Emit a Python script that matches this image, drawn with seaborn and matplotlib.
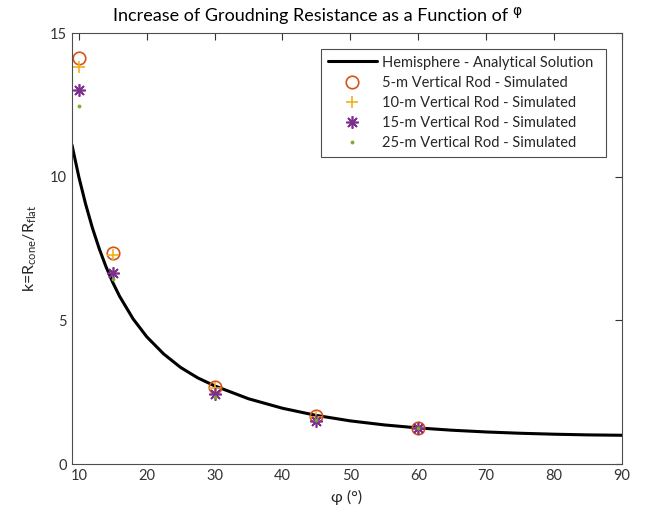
import numpy as np
import pandas as pd
import matplotlib
matplotlib.use("Agg")
import matplotlib.pyplot as plt
import seaborn as sns

# ---- data ----
phi_curve = [9, 10, 11, 12, 13, 14, 15, 16, 18, 20, 22.5, 25, 27.5, 30, 35, 40,
             45, 50, 55, 60, 65, 70, 75, 80, 85, 90]
k_curve = [11.1, 10.0, 9.05, 8.22, 7.5, 6.87, 6.32, 5.84, 5.05, 4.43, 3.83, 3.36,
           3.0, 2.72, 2.27, 1.94, 1.69, 1.5, 1.36, 1.255, 1.175, 1.115, 1.07,
           1.037, 1.013, 1.0]

phi_sim = [10, 15, 30, 45, 60]
k_5m = [14.12, 7.35, 2.67, 1.67, 1.26]
k_10m = [13.83, 7.27, 2.63, 1.64, 1.26]
k_15m = [13.0, 6.66, 2.43, 1.51, 1.25]
k_25m = [12.47, 6.43, 2.34, 1.53, 1.25]

x_ticks = [10, 20, 30, 40, 50, 60, 70, 80, 90]
y_ticks = [0, 5, 10, 15]

labels = ["Hemisphere - Analytical Solution",
          "5-m Vertical Rod - Simulated",
          "10-m Vertical Rod - Simulated",
          "15-m Vertical Rod - Simulated",
          "25-m Vertical Rod - Simulated"]

sns.set_theme(style="white")
plt.rcParams["font.family"] = ["Lato", "DejaVu Sans"]
plt.rcParams["mathtext.default"] = "regular"

axis_col = "#4d4d4d"
fig = plt.figure(figsize=(6.57, 5.17), dpi=100)
ax = fig.add_axes([72 / 657, 1 - 464 / 517, 550 / 657, 431 / 517])

curve = pd.DataFrame({"phi": phi_curve, "k": k_curve})
sns.lineplot(data=curve, x="phi", y="k", ax=ax, color="black", lw=2.2,
             label=labels[0], sort=False)

sim_specs = [
    (k_5m, dict(marker="o", ms=9, mfc="none", mec="#D95319", mew=1.2)),
    (k_10m, dict(marker="+", ms=9, mec="#EDB120", mew=1.2)),
    (k_15m, dict(marker=(8, 2, 0), ms=9, mec="#7E2F8E", mew=1.2)),
    (k_25m, dict(marker=".", ms=4, mec="#77AC30", mfc="#77AC30")),
]
for (vals, kw), lab in zip(sim_specs, labels[1:]):
    df = pd.DataFrame({"phi": phi_sim, "k": vals})
    sns.lineplot(data=df, x="phi", y="k", ax=ax, linestyle="", label=lab,
                 color=kw.get("mec"), **kw)

ax.set_xlim(9, 90)
ax.set_ylim(0, 15)
ax.set_xticks(x_ticks)
ax.set_yticks(y_ticks)
ax.tick_params(direction="in", length=5, width=0.8, colors="#333333",
               labelsize=10.5, top=True, right=True, labelcolor="#333333")
for s in ax.spines.values():
    s.set_color(axis_col)
    s.set_linewidth(0.8)

ax.set_xlabel("φ (°)", fontsize=11.5, color="#262626", labelpad=5)
ax.set_ylabel(r"k=R$_{cone}$/R$_{flat}$", fontsize=11.5, color="#262626", labelpad=8)

fig.text(113 / 657, 1 - 16 / 517, "Increase of Groudning Resistance as a Function of",
         fontsize=13, ha="left", va="center", color="black")
fig.text(517 / 657, 1 - 11 / 517, "φ", fontsize=10, ha="center", va="center",
         color="black", family=["DejaVu Sans"])

leg = ax.legend(loc="upper left",
                bbox_to_anchor=((321 - 72) / 550, 1 - 16 / 431, (606 - 321) / 550, 0.0),
                mode="expand", fontsize=10.5, frameon=True, fancybox=False,
                framealpha=1, edgecolor="#4d4d4d", handlelength=3.4,
                borderpad=0.45, labelspacing=0.42, handletextpad=0.35,
                borderaxespad=0)
leg.get_frame().set_linewidth(0.8)

fig.savefig("out.png", dpi=100)
